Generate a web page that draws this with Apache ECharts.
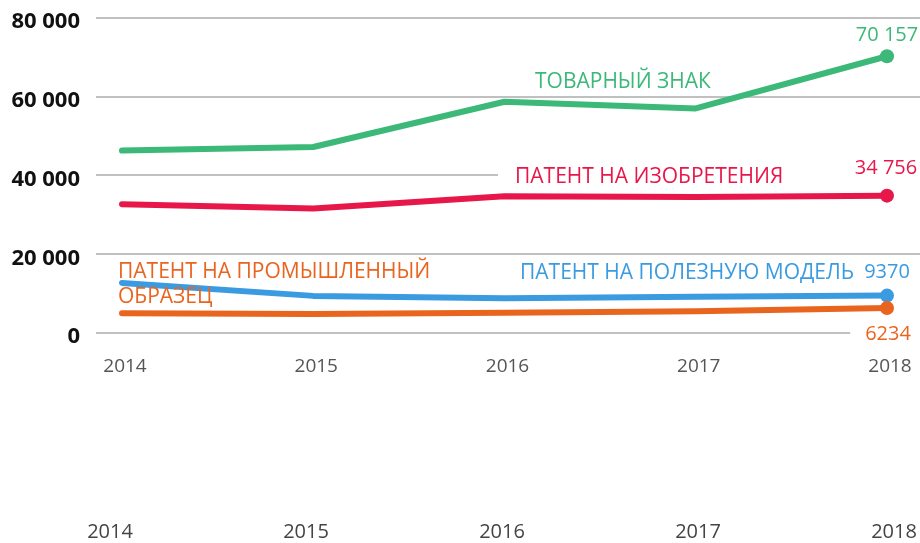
<!DOCTYPE html>
<html>
<head>
<meta charset="utf-8">
<script src="https://cdn.jsdelivr.net/npm/echarts@6/dist/echarts.min.js"></script>
<style>
  html, body { margin: 0; padding: 0; background: #fff; }
  #chart { width: 920px; height: 543px; }
</style>
</head>
<body>
<div id="chart"></div>
<script>
// ---- data ----
const years = ['2014', '2015', '2016', '2017', '2018'];
const trademark = [46200, 47100, 58600, 56900, 70157];      // ТОВАРНЫЙ ЗНАК
const invention = [32600, 31500, 34600, 34400, 34756];      // ПАТЕНТ НА ИЗОБРЕТЕНИЯ
const utilityModel = [12600, 9300, 8700, 9100, 9370];       // ПАТЕНТ НА ПОЛЕЗНУЮ МОДЕЛЬ
const industrialDesign = [4900, 4700, 5000, 5400, 6234];    // ПАТЕНТ НА ПРОМЫШЛЕННЫЙ ОБРАЗЕЦ
const yTicks = [0, 20000, 40000, 60000, 80000];
const bottomYears = ['2014', '2015', '2016', '2017', '2018'];

const COLORS = {
  green: '#3cb878',
  red: '#e8174a',
  blue: '#3b9be0',
  orange: '#e9651f'
};
const FONT = '"Open Sans", "Noto Sans", sans-serif';

function fmtNum(v) {
  const s = String(v);
  if (v >= 10000) return s.slice(0, s.length - 3) + ' ' + s.slice(s.length - 3);
  return s;
}

const chart = echarts.init(document.getElementById('chart'), null, { renderer: 'canvas' });

function lineSeries(name, data, color, labelOpts) {
  return {
    name: name,
    type: 'line',
    xAxisIndex: 1,
    yAxisIndex: 1,
    data: data,
    symbol: 'circle',
    symbolSize: function (v, p) { return p.dataIndex === data.length - 1 ? 14 : 0; },
    showSymbol: true,
    lineStyle: { color: color, width: 6, cap: 'round', join: 'round' },
    itemStyle: { color: color },
    label: Object.assign({
      show: true,
      color: color,
      fontFamily: FONT,
      fontSize: 20,
      formatter: function (p) { return p.dataIndex === data.length - 1 ? fmtNum(p.value) : ''; }
    }, labelOpts),
    emphasis: { disabled: true },
    z: 3
  };
}

const option = {
  animation: false,
  backgroundColor: '#fff',
  grid: [
    { left: 96, right: 0, top: 17.5, height: 315 },
    { left: 122, right: 33, top: 17.5, height: 315 },
    { left: 110, right: 26, top: 500, height: 10 }
  ],
  xAxis: [
    { gridIndex: 0, type: 'category', data: years, show: false },
    {
      gridIndex: 1, type: 'category', data: years, boundaryGap: false,
      axisLine: { show: false }, axisTick: { show: false }, splitLine: { show: false },
      axisLabel: { margin: 25, color: '#555', fontFamily: FONT, fontSize: 19, padding: [0, 0, 0, 6] }
    },
    {
      gridIndex: 2, type: 'category', data: bottomYears, boundaryGap: false,
      axisLine: { show: false }, axisTick: { show: false }, splitLine: { show: false },
      axisLabel: { margin: 12, color: '#444', fontFamily: FONT, fontSize: 20 }
    }
  ],
  yAxis: [
    {
      gridIndex: 0, type: 'value', min: 0, max: 80000, interval: 20000,
      axisLine: { show: false }, axisTick: { show: false },
      splitLine: { show: true, lineStyle: { color: '#ababab', width: 1.5 } },
      axisLabel: {
        margin: 16,
        formatter: function (v) { return yTicks.indexOf(v) >= 0 ? '{a|' + fmtNum(v) + '}' : ''; },
        rich: {
          a: { color: '#111', fontFamily: FONT, fontSize: 22, fontWeight: 'bold', padding: [9, 0, 0, 0] }
        }
      }
    },
    { gridIndex: 1, type: 'value', min: 0, max: 80000, interval: 20000, show: false, splitLine: { show: false } },
    { gridIndex: 2, type: 'value', min: 0, max: 1, show: false, splitLine: { show: false } }
  ],
  series: [
    lineSeries('ТОВАРНЫЙ ЗНАК', trademark, COLORS.green, { position: 'top', distance: 4 }),
    lineSeries('ПАТЕНТ НА ИЗОБРЕТЕНИЯ', invention, COLORS.red, {
      position: 'top', distance: 8, offset: [-1, 0], backgroundColor: '#fff', padding: [2, 7, 2, 7]
    }),
    lineSeries('ПАТЕНТ НА ПОЛЕЗНУЮ МОДЕЛЬ', utilityModel, COLORS.blue, { position: 'top', distance: 6 }),
    lineSeries('ПАТЕНТ НА ПРОМЫШЛЕННЫЙ ОБРАЗЕЦ', industrialDesign, COLORS.orange, {
      position: 'bottom', distance: 7, backgroundColor: '#fff', padding: [2, 13, 2, 15]
    })
  ],
  graphic: [
    {
      type: 'text', x: 535, y: 82, z: 100,
      style: { text: 'ТОВАРНЫЙ ЗНАК', fill: COLORS.green, font: '21px ' + FONT, verticalAlign: 'middle' }
    },
    {
      type: 'text', x: 498, y: 177, z: 1,
      style: {
        text: 'ПАТЕНТ НА ИЗОБРЕТЕНИЯ', fill: COLORS.red, font: '21px ' + FONT, verticalAlign: 'middle',
        backgroundColor: '#fff', padding: [4, 70, 4, 17]
      }
    },
    {
      type: 'text', x: 520, y: 273, z: 100,
      style: { text: 'ПАТЕНТ НА ПОЛЕЗНУЮ МОДЕЛЬ', fill: COLORS.blue, font: '21px ' + FONT, verticalAlign: 'middle' }
    },
    {
      type: 'text', x: 118, y: 260, z: 100,
      style: {
        text: 'ПАТЕНТ НА ПРОМЫШЛЕННЫЙ\nОБРАЗЕЦ', fill: COLORS.orange, font: '21px ' + FONT,
        lineHeight: 25, verticalAlign: 'top'
      }
    }
  ]
};

chart.setOption(option);
</script>
</body>
</html>
